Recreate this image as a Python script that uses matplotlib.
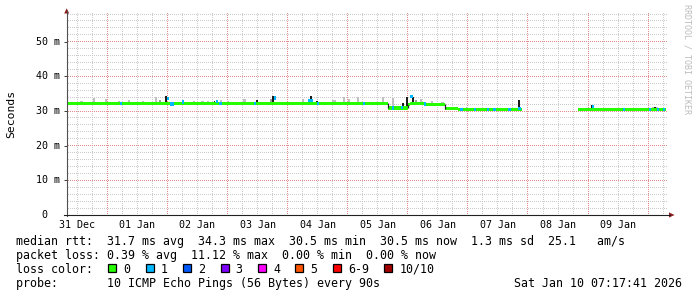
import numpy as np
import matplotlib
matplotlib.use("Agg")
import matplotlib.pyplot as plt
from matplotlib.ticker import MultipleLocator
from matplotlib.patches import Rectangle, Polygon
from matplotlib.lines import Line2D
from matplotlib.colors import to_rgba
import matplotlib.transforms as mtrans

# ---------------- data (time in days since 31 Dec 00:00, values in ms) -------------
x_range = [0.324, 10.33]
y_range = [0, 58.5]
day_labels = ["31 Dec", "01 Jan", "02 Jan", "03 Jan", "04 Jan",
              "05 Jan", "06 Jan", "07 Jan", "08 Jan", "09 Jan"]
y_tick_values = [0, 10, 20, 30, 40, 50]
y_tick_labels = [" 0", "10 m", "20 m", "30 m", "40 m", "50 m"]

# median rtt, piecewise (gap between 7.895 and 8.832 = no data)
seg_start = [0.324, 5.671, 6.003, 6.037, 6.286, 6.619, 6.835, 8.832]
seg_end = [5.671, 6.003, 6.037, 6.286, 6.619, 6.835, 7.895, 10.291]
seg_median = [32.2, 30.9, 31.8, 32.2, 31.9, 30.7, 30.5, 30.5]

# intervals where pings were lost (median drawn in loss colour)
loss_start = [1.211, 1.993, 2.043, 2.243, 2.809, 2.859, 3.441, 3.774, 4.340, 4.489,
              5.255, 5.738, 5.888, 6.037, 6.270, 6.869, 7.101, 7.318, 7.418, 7.667,
              7.834, 9.065, 9.581, 10.013, 10.146, 10.246]
loss_end = [1.244, 2.027, 2.110, 2.276, 2.842, 2.909, 3.474, 3.808, 4.423, 4.523,
            5.288, 5.771, 5.921, 6.087, 6.303, 6.919, 7.135, 7.351, 7.468, 7.717,
            7.878, 9.098, 9.614, 10.046, 10.180, 10.279]
loss_value = [32.2, 33.7, 32.0, 32.6, 32.8, 32.1, 32.2, 33.8, 33.0, 32.1,
              32.2, 30.9, 31.0, 34.2, 32.0, 30.5, 30.5, 30.5, 30.5, 30.5,
              30.8, 31.3, 30.5, 30.5, 30.5, 30.5]
loss_count = [1] * 26

# smoke (spread of the individual pings above the median)
smoke_start = [0.546, 0.762, 0.962, 1.178, 1.344, 1.577, 1.794, 1.860, 1.960, 2.243,
               2.426, 2.559, 2.659, 2.767, 2.875, 2.992, 3.258, 3.474, 3.708, 3.741,
               4.240, 4.373, 4.473, 4.739, 4.922, 5.005, 5.155, 5.571, 5.738, 5.904,
               5.971, 6.070, 6.120, 6.203, 6.386, 6.552, 6.802, 6.968, 7.418, 7.834,
               8.865, 9.048, 9.498, 10.062, 10.096, 10.129]
smoke_end = [0.600, 0.795, 0.995, 1.211, 1.377, 1.610, 1.827, 1.893, 1.993, 2.276,
             2.459, 2.610, 2.692, 2.800, 2.908, 3.025, 3.308, 3.507, 3.741, 3.774,
             4.273, 4.406, 4.506, 4.806, 4.955, 5.038, 5.188, 5.604, 5.771, 5.937,
             6.004, 6.103, 6.153, 6.236, 6.420, 6.602, 6.835, 7.001, 7.451, 7.867,
             8.898, 9.081, 9.531, 10.096, 10.129, 10.162]
smoke_top = [32.9, 33.9, 33.5, 32.9, 33.1, 32.9, 34.0, 33.2, 34.2, 33.3,
             32.9, 32.8, 32.9, 33.0, 33.2, 32.9, 33.4, 33.2, 33.4, 34.3,
             33.4, 34.2, 33.0, 33.1, 34.0, 33.5, 34.0, 34.0, 33.7, 32.4,
             34.1, 34.0, 33.3, 33.5, 32.9, 32.6, 31.2, 31.3, 31.0, 33.2,
             31.0, 31.7, 31.0, 31.3, 31.3, 31.2]
smoke_pings = [1, 1, 1, 1, 1, 1, 1, 2, 6, 6,
               1, 1, 1, 6, 1, 1, 1, 6, 2, 6,
               1, 6, 6, 1, 1, 1, 1, 1, 1, 6,
               6, 6, 2, 1, 1, 1, 6, 1, 6, 6,
               1, 6, 1, 1, 6, 1]

loss_names = ["0", "1", "2", "3", "4", "5", "6-9", "10/10"]
loss_colors = ["#26ff00", "#00b8ff", "#0059ff", "#7e00ff",
               "#ff00ff", "#ff5500", "#ff0000", "#a10000"]

stats_rtt = "median rtt:  31.7 ms avg  34.3 ms max  30.5 ms min  30.5 ms now  1.3 ms sd  25.1   am/s"
stats_loss = "packet loss: 0.39 % avg  11.12 % max  0.00 % min  0.00 % now"
probe_text = "probe:       10 ICMP Echo Pings (56 Bytes) every 90s"
stamp_text = "Sat Jan 10 07:17:41 2026"
side_text = "RRDTOOL / TOBI OETIKER"
y_label = "Seconds"

# ---------------- drawing -----------------------------------------------------------
W, H = 697, 297
MONO = "DejaVu Sans Mono"
fig = plt.figure(figsize=(W / 100, H / 100), dpi=100)
fig.patch.set_facecolor("white")


def fx(px):
    return px / W


def fy(py):
    return 1 - py / H


ax_l, ax_r, ax_t, ax_b = 66.7, 668.0, 12.3, 215.0
ax = fig.add_axes([fx(ax_l), fy(ax_b), fx(ax_r - ax_l), (ax_b - ax_t) / H])
ax.set_xlim(*x_range)
ax.set_ylim(*y_range)
for s in ax.spines.values():
    s.set_visible(False)
ax.set_facecolor("none")

ax.xaxis.set_major_locator(MultipleLocator(1))
ax.xaxis.set_minor_locator(MultipleLocator(0.25))
ax.yaxis.set_major_locator(MultipleLocator(10))
ax.yaxis.set_minor_locator(MultipleLocator(2))
ax.tick_params(which="both", labelbottom=False, labelleft=False)
ax.tick_params(axis="x", which="both", length=0)
ax.tick_params(axis="y", which="minor", length=0)
ax.tick_params(axis="y", which="major", length=2.2, width=0.72, color="#404040")

# dotted grid rendered as an exact pixel image (1 px on / 1 px off) like rrdtool
fig.canvas.draw()
grid_img = np.zeros((H, W, 4))
x0_px, y0_px = ax.transData.transform((x_range[0], y_range[0]))
x1_px, y1_px = ax.transData.transform((x_range[1], y_range[1]))
c_left, c_right = int(np.ceil(x0_px)) + 1, int(np.floor(x1_px))
r_top, r_bot = H - int(np.floor(y1_px)), H - 1 - int(np.floor(y0_px))


def put_grid(values, axis, color):
    rgba = to_rgba(color)
    for v in values:
        if axis == "x":
            c = int(np.floor(ax.transData.transform((v, 0))[0]))
            for r in range(r_top, r_bot, 2):
                grid_img[r, c] = rgba
        else:
            r = H - 1 - int(np.floor(ax.transData.transform((x_range[0], v))[1]))
            for c in range(c_left, c_right, 2):
                grid_img[r, c] = rgba


def inside(vals, lo, hi):
    return [v for v in vals if lo < v < hi]


x_minor = [v for v in inside(ax.xaxis.get_minorticklocs(), *x_range)
           if abs(v - round(v)) > 1e-6]
y_minor = [v for v in inside(ax.yaxis.get_minorticklocs(), y_range[0], y_range[1] + 0.1)
           if abs(v / 10 - round(v / 10)) > 1e-6]
x_major = inside(ax.xaxis.get_majorticklocs(), *x_range)
y_major = inside(ax.yaxis.get_majorticklocs(), y_range[0], y_range[1] + 0.1)
put_grid(x_minor, "x", "#cccccc")
put_grid(y_minor, "y", "#cccccc")
put_grid(y_major, "y", "#e28c8c")
put_grid(x_major, "x", "#e28c8c")
fig.figimage(grid_img, xo=0, yo=0, origin="upper", zorder=-1)

HALF = 0.47  # half thickness of the median band (ms)


def median_at(t):
    for s, e, m in zip(seg_start, seg_end, seg_median):
        if s <= t < e:
            return m
    return None


def shade(n):
    if n >= 5:
        return "#1c1c1c"
    if n >= 3:
        return "#6e6e6e"
    if n == 2:
        return "#9a9a9a"
    return "#c0c0c0"


# smoke
for s, e, top, n in zip(smoke_start, smoke_end, smoke_top, smoke_pings):
    base = median_at(s)
    if base is None:
        continue
    ax.add_patch(Rectangle((s, base), e - s, top - base, facecolor=shade(n),
                           edgecolor="none", antialiased=False, zorder=3))

# median band
for i, (s, e, m) in enumerate(zip(seg_start, seg_end, seg_median)):
    ax.add_patch(Rectangle((s, m - HALF), e - s, 2 * HALF, facecolor=loss_colors[0],
                           edgecolor="none", antialiased=False, zorder=4))
    if i + 1 < len(seg_start) and abs(seg_start[i + 1] - e) < 1e-9:
        m2 = seg_median[i + 1]
        if abs(m2 - m) > 0.5:
            ax.plot([e, e], [m, m2], color="#202020", lw=0.9, zorder=5,
                    solid_capstyle="butt")


def loss_index(c):
    if c <= 5:
        return c
    if c < 10:
        return 6
    return 7


for s, e, v, c in zip(loss_start, loss_end, loss_value, loss_count):
    ax.add_patch(Rectangle((s, v - HALF), e - s, 2 * HALF,
                           facecolor=loss_colors[loss_index(c)],
                           edgecolor="none", antialiased=False, zorder=6))

# axes lines with arrows
axis_col = "#202020"
arrow_col = "#8c1c1c"
fig.add_artist(Line2D([fx(ax_l), fx(ax_l)], [fy(ax_b + 1), fy(11)], color="#505050",
                      lw=0.8, transform=fig.transFigure))
fig.add_artist(Line2D([fx(64), fx(670)], [fy(ax_b), fy(ax_b)], color=axis_col,
                      lw=0.8, transform=fig.transFigure))
fig.add_artist(Polygon([[fx(64.2), fy(13.5)], [fx(69.2), fy(13.5)], [fx(66.7), fy(8.3)]],
                       closed=True, facecolor=arrow_col, edgecolor="none",
                       transform=fig.transFigure))
fig.add_artist(Polygon([[fx(669), fy(212.4)], [fx(669), fy(217.6)], [fx(674.5), fy(215)]],
                       closed=True, facecolor=arrow_col, edgecolor="none",
                       transform=fig.transFigure))

# tick labels
tr_x = mtrans.blended_transform_factory(ax.transData, fig.transFigure)
for k, lab in enumerate(day_labels):
    ax.text(k + 0.5, fy(228.3), lab, transform=tr_x, ha="center", va="baseline",
            family=MONO, fontsize=7.2, color="#000000")
tr_y = mtrans.blended_transform_factory(fig.transFigure, ax.transData)
for v, lab in zip(y_tick_values, y_tick_labels):
    ax.text(fx(36), v, lab, transform=tr_y, ha="left", va="center",
            family=MONO, fontsize=7.2, color="#000000")

# axis title and side text
fig.text(fx(10.8), fy(114), y_label, rotation=90, ha="center", va="center",
         family=MONO, fontsize=8.2, color="#000000")
fig.text(fx(687), fy(4.5), side_text, rotation=270, ha="center", va="top",
         family=MONO, fontsize=6.0, color="#bcbcbc")

# legend / statistics
TXT = dict(family=MONO, fontsize=8.4, color="#000000", va="baseline", ha="left")
fig.text(fx(16), fy(245.3), stats_rtt, **TXT)
fig.text(fx(16), fy(259.0), stats_loss, **TXT)
fig.text(fx(16), fy(273.0), "loss color:", **TXT)
fig.text(fx(16), fy(286.6), probe_text, **TXT)
fig.text(fx(681.5), fy(286.6), stamp_text, family=MONO, fontsize=8.4,
         color="#000000", va="baseline", ha="right")

CHAR = 7.02
sq_x = 108.3
for name, col in zip(loss_names, loss_colors):
    fig.add_artist(Rectangle((fx(sq_x), fy(272)), 8 / W, 8 / H, facecolor=col,
                             edgecolor="#000000", lw=0.9, transform=fig.transFigure))
    fig.text(fx(sq_x + 15), fy(273.0), name, **TXT)
    sq_x = sq_x + 15 + CHAR * len(name) + 15.4

fig.savefig("out.png", dpi=100, facecolor="white")
